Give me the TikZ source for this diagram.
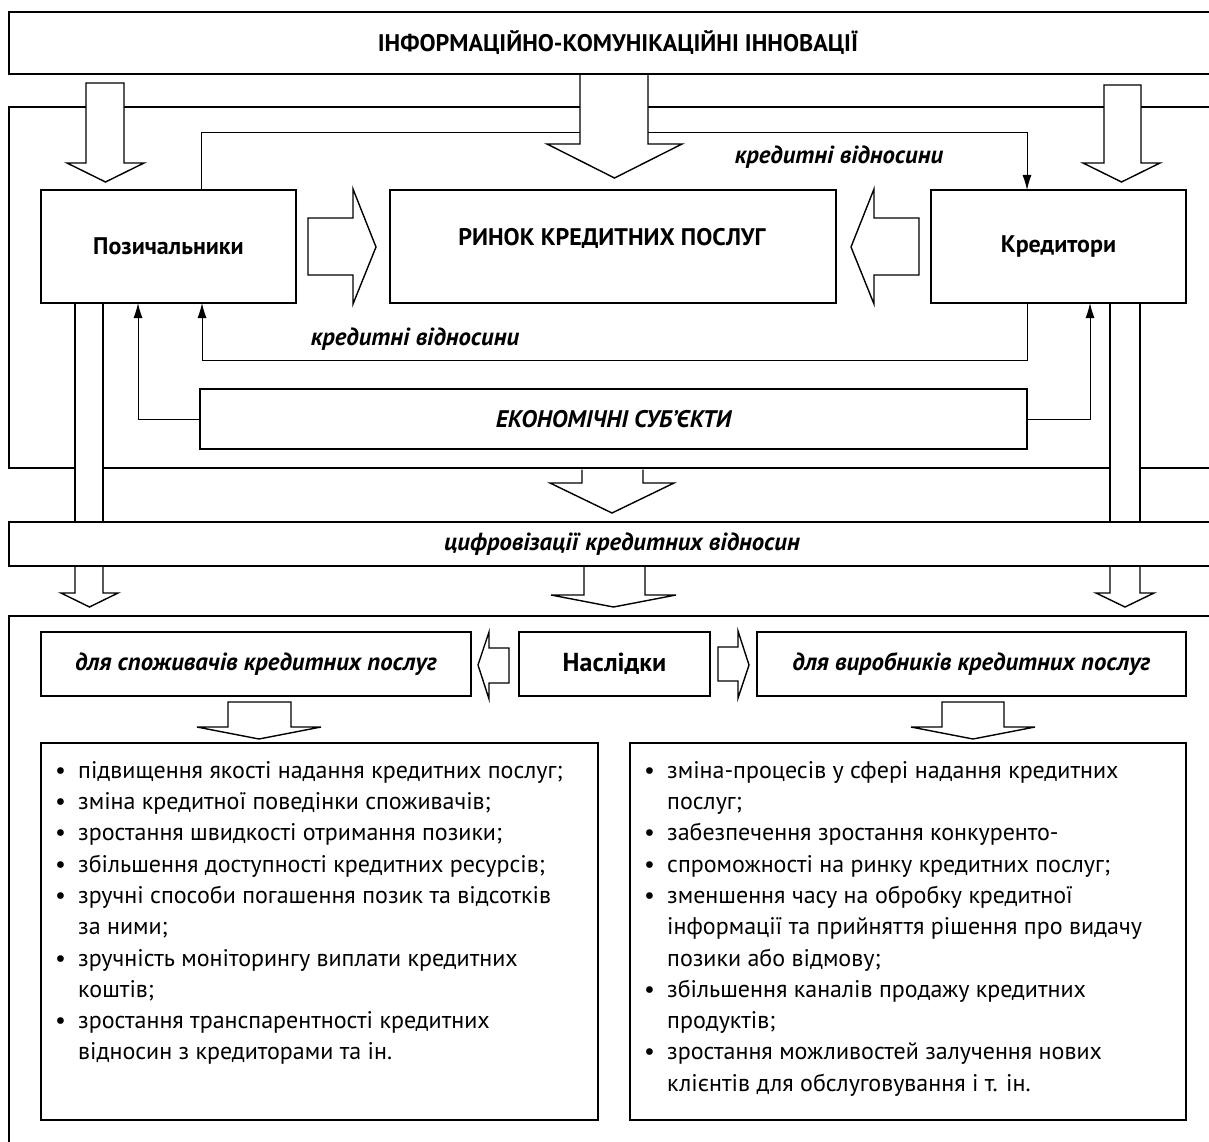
\documentclass[tikz,border=0pt]{standalone}
\usepackage{fontspec}
\setmainfont{PT Sans}
\usetikzlibrary{arrows.meta}
\pgfdeclarelayer{bg}
\pgfsetlayers{bg,main}
\newcommand\dnarr[7]{%
  \fill[white] (#1,#3) -- (#1,#4) -- (#5,#4) -- ({(#5+#6)/2},#7) -- (#6,#4) -- (#2,#4) -- (#2,#3) -- cycle;
  \draw[barrow] (#1,#3) -- (#1,#4) -- (#5,#4) -- ({(#5+#6)/2},#7) -- (#6,#4) -- (#2,#4) -- (#2,#3);}
\newcommand\dnarrc[7]{%
  \draw[barrow,fill=white] (#1,#3) -- (#1,#4) -- (#5,#4) -- ({(#5+#6)/2},#7) -- (#6,#4) -- (#2,#4) -- (#2,#3) -- cycle;}
\newcommand\bitem{\makebox[23pt][l]{•}}
\newcommand\bcont{\hspace*{23pt}}
\begin{document}
\begin{tikzpicture}[x=1pt,y=-1pt,
  frm/.style={line width=2pt},
  box/.style={draw,line width=2pt,fill=white,inner sep=0pt,outer sep=0pt,anchor=north west,align=center},
  barrow/.style={line width=1.4pt,line join=miter},
  conn/.style={line width=1pt,-{Latex[length=15pt,width=9pt]}},
  boldtxt/.style={font=\fontsize{24}{28}\selectfont\bfseries},
  itl/.style={font=\fontsize{24.7}{29}\selectfont\bfseries\itshape},
  bullets/.style={font=\fontsize{24}{31.3}\selectfont,align=left,inner sep=0pt,anchor=north west},
]
\useasboundingbox (0,0) rectangle (1209,1142);
% frames
\draw[frm] (9,107) rectangle (1230,468);
\draw[frm] (9,616) rectangle (1230,1160);
% block arrows
\dnarrc{86}{124}{83}{163}{67}{144}{182}
\dnarrc{1104}{1141}{85}{163}{1083}{1160}{182}
\dnarr{580}{648}{74}{144}{547}{682}{178}
\dnarr{582}{643}{469.5}{483}{550}{674}{513}
\dnarr{584}{645}{566}{595}{551}{676}{607}
\dnarr{75}{103}{566}{593}{61}{118}{607}
\dnarr{1110}{1140}{566}{593}{1096}{1154}{607}
\dnarrc{228}{291}{702}{727}{197}{321}{739}
\dnarrc{942}{1004}{702}{727}{911}{1035}{739}
\fill[white] (75,304) rectangle (103,522);
\draw[barrow] (75,304) -- (75,522) (103,304) -- (103,522);
\fill[white] (1110,304) rectangle (1140,522);
\draw[barrow] (1110,304) -- (1110,522) (1140,304) -- (1140,522);
\draw[barrow,fill=white] (308,218) -- (353,218) -- (353,189) -- (376,247) -- (353,304) -- (353,275) -- (308,275) -- cycle;
\draw[barrow,fill=white] (919,218) -- (874,218) -- (874,189) -- (851,247) -- (874,304) -- (874,275) -- (919,275) -- cycle;
\draw[barrow,fill=white] (509,648) -- (489,648) -- (489,632) -- (478,665) -- (489,699) -- (489,683) -- (509,683) -- cycle;
\draw[barrow,fill=white] (718,647) -- (738,647) -- (738,631) -- (749,665) -- (738,698) -- (738,681) -- (718,681) -- cycle;
% boxes
\node[box,minimum width=1218pt,minimum height=62pt,font=\fontsize{24}{28}\selectfont\bfseries] (top) at (9,12) {ІНФОРМАЦІЙНО-КОМУНІКАЦІЙНІ ІННОВАЦІЇ};
\node[box,minimum width=1226pt,minimum height=44pt,itl] (cf) at (9,522) {цифровізації кредитних відносин};
\node[box,minimum width=255pt,minimum height=113pt,boldtxt] (pz) at (41,190) {Позичальники};
\node[box,minimum width=446pt,minimum height=113pt] (rn) at (390,190) {};
\node[font=\fontsize{24}{28}\selectfont\bfseries] (rntext) at (612,238) {РИНОК КРЕДИТНИХ ПОСЛУГ};
\node[box,minimum width=255pt,minimum height=113pt,boldtxt] (kr) at (931,190) {Кредитори};
\node[box,minimum width=827pt,minimum height=60pt,font=\fontsize{24}{28}\selectfont\bfseries\itshape] (ek) at (200,389) {ЕКОНОМІЧНІ СУБ’ЄКТИ};
\node[itl] (lab1) at (839,157) {кредитні відносини};
\node[itl] (lab2) at (415,339) {кредитні відносини};
\node[box,minimum width=430pt,minimum height=64pt,itl] (ls) at (41,632) {для споживачів кредитних послуг};
\node[box,minimum width=191pt,minimum height=64pt,font=\fontsize{26}{30}\selectfont\bfseries] (ns) at (519,632) {Наслідки};
\node[box,minimum width=429pt,minimum height=64pt,itl] (rs) at (757,632) {для виробників кредитних послуг};
\node[box,minimum width=557pt,minimum height=377pt] (lb) at (41,743) {};
\node[box,minimum width=556pt,minimum height=377pt] (rb) at (630,743) {};
\node[bullets] (lbt) at (55,756.1) {\strut\bitem підвищення якості надання кредитних послуг;\\
\bitem зміна кредитної поведінки споживачів;\\
\bitem зростання швидкості отримання позики;\\
\bitem збільшення доступності кредитних ресурсів;\\
\bitem зручні способи погашення позик та відсотків\\
\bcont за ними;\\
\bitem зручність моніторингу виплати кредитних\\
\bcont коштів;\\
\bitem зростання транспарентності кредитних\\
\bcont відносин з кредиторами та ін.};
\node[bullets] (rbt) at (644,756.1) {\strut\bitem зміна-процесів у сфері надання кредитних\\
\bcont послуг;\\
\bitem забезпечення зростання конкуренто-\\
\bitem спроможності на ринку кредитних послуг;\\
\bitem зменшення часу на обробку кредитної\\
\bcont інформації та прийняття рішення про видачу\\
\bcont позики або відмову;\\
\bitem збільшення каналів продажу кредитних\\
\bcont продуктів;\\
\bitem зростання можливостей залучення нових\\
\bcont клієнтів для обслуговування і т. ін.};
% connectors
\begin{pgfonlayer}{bg}
\coordinate (ua) at (201,133);
\coordinate (ub) at (1027,133);
\coordinate (la) at (1027,360);
\coordinate (lc) at (202,360);
\coordinate (el) at (138,0);
\coordinate (er) at (1090,0);
\draw[conn] (ua |- pz.north) -- (ua) -- (ub) -- (ub |- kr.north);
\draw[conn] (la |- kr.south) -- (la) -- (lc) -- (lc |- pz.south);
\draw[conn] (ek.west) -| (pz.south -| el);
\draw[conn] (ek.east) -| (kr.south -| er);
\end{pgfonlayer}
\end{tikzpicture}
\end{document}
